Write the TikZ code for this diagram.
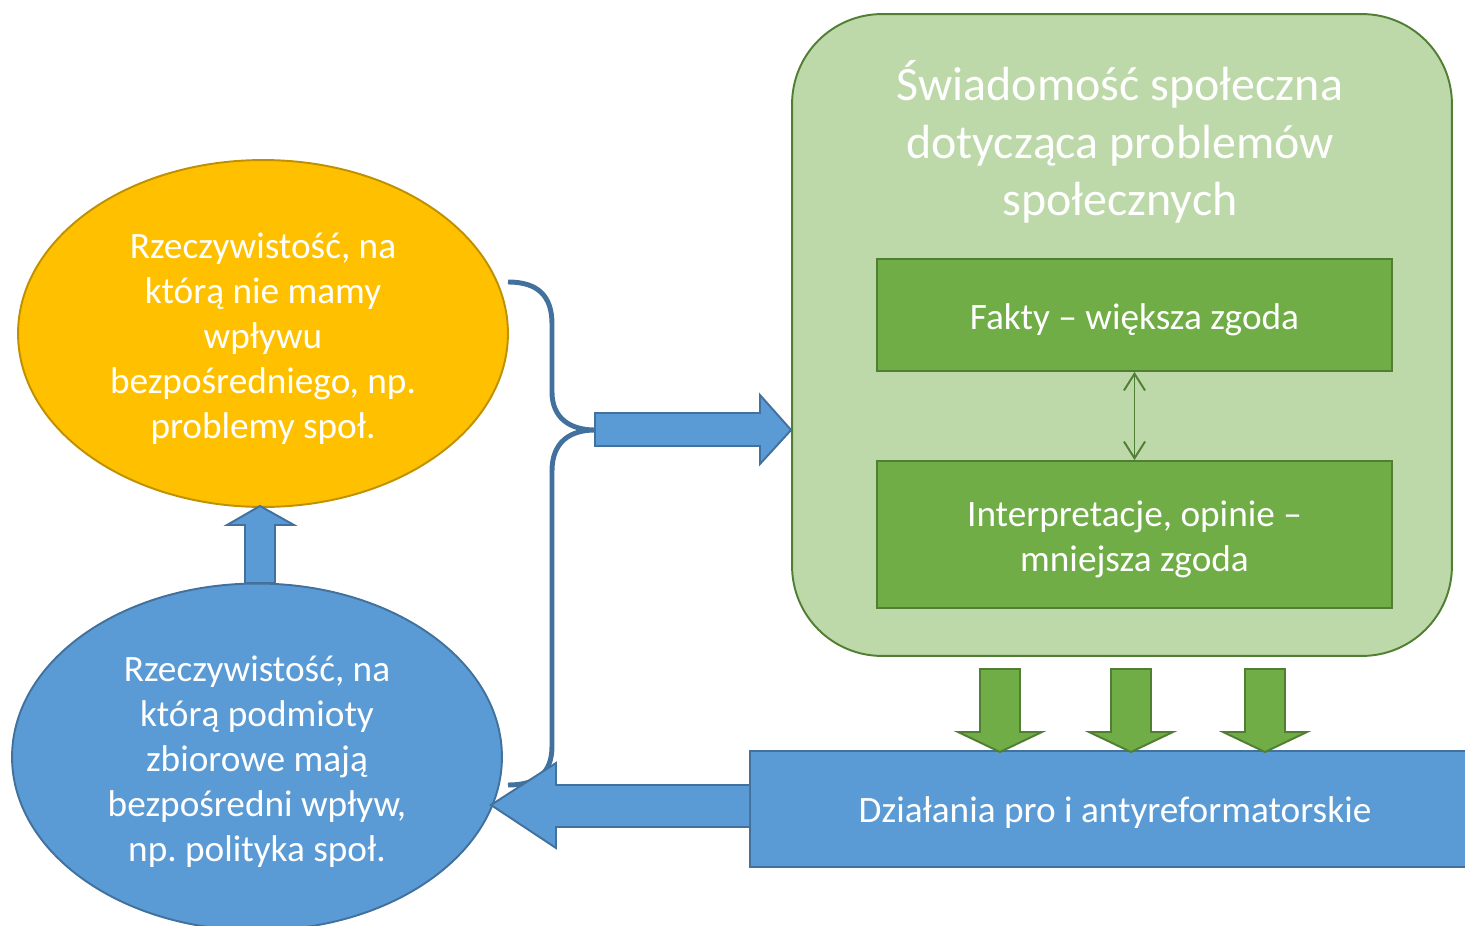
\documentclass[tikz,border=0pt]{standalone}
\usepackage{fontspec}
\setmainfont{Carlito}
\usetikzlibrary{shapes.geometric,arrows.meta}
\frenchspacing

\definecolor{gold}{HTML}{FFC000}
\definecolor{golddark}{HTML}{BF9000}
\definecolor{sky}{HTML}{5B9BD5}
\definecolor{skydark}{HTML}{41719C}
\definecolor{leaf}{HTML}{70AD47}
\definecolor{leafdark}{HTML}{507E32}
\definecolor{leaflight}{HTML}{BDD8A9}

\tikzset{
  bodytext/.style={text=white,align=center,font=\fontsize{21.2}{25.6}\selectfont},
  blob/.style={ellipse,draw,line width=1.1pt,inner sep=0pt,minimum width=9.8cm,minimum height=6.94cm,bodytext},
  greenbox/.style={draw=leafdark,fill=leaf,line width=1.1pt,minimum width=10.3cm,bodytext},
  blockarrow/.style={line width=1.1pt,line join=miter}
}

\begin{document}
\begin{tikzpicture}[x=0.02cm,y=-0.02cm]
  \useasboundingbox (0,0) rectangle (1465,926);

  % ellipses
  \node[blob,draw=golddark,fill=gold] (rzecz) at (263,333.5) {\rule{0pt}{20pt}Rzeczywistość, na\\ którą nie mamy\\ wpływu\\ bezpośredniego, np.\\ problemy społ.};
  \node[blob,draw=skydark,fill=sky] (polit) at (257,757) {\rule{0pt}{20pt}Rzeczywistość, na\\ którą podmioty\\ zbiorowe mają\\ bezpośredni wpływ,\\ np. polityka społ.};

  % panel
  \node[draw=leafdark,fill=leaflight,line width=1.1pt,rounded corners=1.8cm,minimum width=13.2cm,minimum height=12.84cm] (panel) at (1122,335) {};
  \node[text=white,align=center,font=\fontsize{27.3}{32.8}\selectfont] (title) at (1120,142) {Świadomość społeczna\\ dotycząca problemów\\ społecznych};
  \node[greenbox,minimum height=2.24cm] (fakty) at (1134.5,315) {\rule{0pt}{20pt}Fakty -- większa zgoda};
  \node[greenbox,minimum height=2.94cm] (interp) at (1134.5,534.5) {\rule{0pt}{20pt}Interpretacje, opinie --\\ mniejsza zgoda};
  \draw[leafdark,line width=1.1pt,{Straight Barb[length=9.5pt,width=12pt]}-{Straight Barb[length=9.5pt,width=12pt]}] (fakty.south) -- (interp.north);

  % actions
  \node[draw=skydark,fill=sky,line width=1.1pt,minimum width=14.4cm,minimum height=2.32cm,bodytext] (dzial) at (1110,809) {};
  \node[bodytext] (dzialtxt) at (1115,813) {Działania pro i antyreformatorskie};

  % arrows down
  \foreach \x in {1000,1131,1265}
  \draw[blockarrow,draw=leafdark,fill=leaf] (\x-20,669) -- (\x+20,669) -- (\x+20,732) -- (\x+42,732) -- (\x,752) -- (\x-42,732) -- (\x-20,732) -- cycle;

  % arrow up
  \draw[blockarrow,draw=skydark,fill=sky] (245,583) -- (245,525) -- (227,525) -- (260,506) -- (294,525) -- (275,525) -- (275,583) -- cycle;

  % brace
  \coordinate (tip) at (595,430);
  \draw[skydark,line width=2.8pt] (508,282) .. controls (538,282) and (552,296) .. (552,324) -- (552,392) .. controls (552,418) and (570,430) .. (tip) .. controls (570,430) and (552,442) .. (552,471) -- (552,746) .. controls (552,774) and (536,785) .. (508,785);

  % arrow left
  \draw[blockarrow,draw=skydark,fill=sky] (dzial.west |- 0,785) -- (556,785) -- (556,763) -- (491,805) -- (556,848) -- (556,827) -- (dzial.west |- 0,827);

  % arrow right
  \draw[blockarrow,draw=skydark,fill=sky] (tip |- 0,413) -- (760,413) -- (760,395) -- (panel.west |- 0,430) -- (760,464) -- (760,446) -- (tip |- 0,446) -- cycle;
\end{tikzpicture}
\end{document}
